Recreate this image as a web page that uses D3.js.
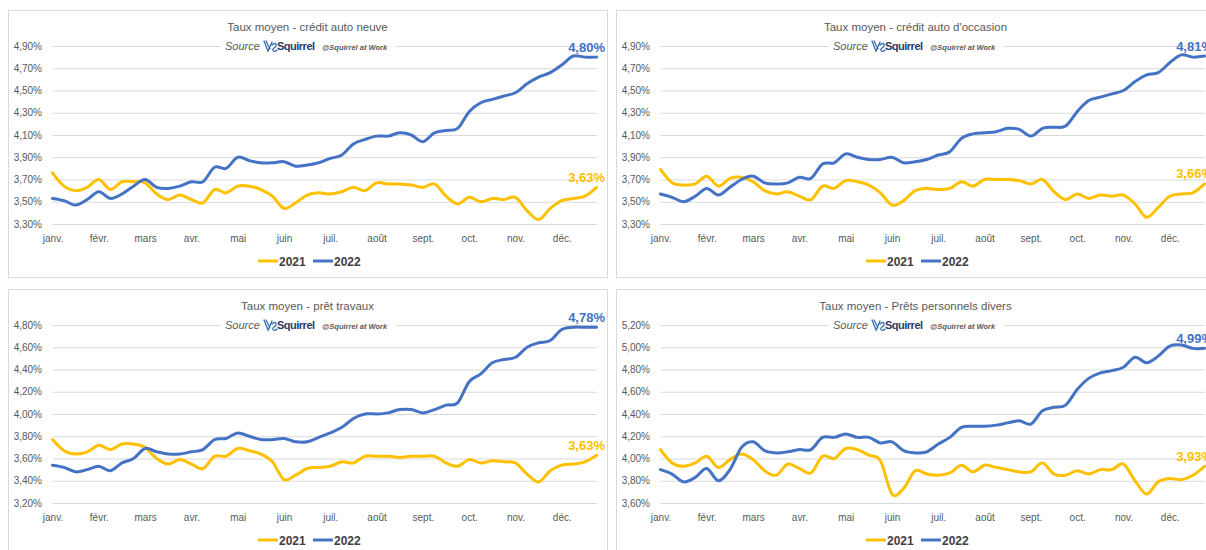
<!DOCTYPE html>
<html>
<head>
<meta charset="utf-8">
<script src="https://cdn.jsdelivr.net/npm/d3@7"></script>
<style>
  body { margin: 0; background: #fff; }
  svg text { font-family: "Liberation Sans", Arial, sans-serif; }
</style>
</head>
<body>
<script>
// month labels (one label every 4 weekly points)
const months = ["janv.", "févr.", "mars", "avr.", "mai", "juin", "juil.", "août", "sept.", "oct.", "nov.", "déc."];
const years = ["2021", "2022"];

// y tick values for each chart
const ticksAuto = [3.30, 3.50, 3.70, 3.90, 4.10, 4.30, 4.50, 4.70, 4.90];
const ticksTravaux = [3.20, 3.40, 3.60, 3.80, 4.00, 4.20, 4.40, 4.60, 4.80];
const ticksPerso = [3.60, 3.80, 4.00, 4.20, 4.40, 4.60, 4.80, 5.00, 5.20];

// crédit auto neuve
const autoNeuve2021 = [3.76,3.64,3.60,3.63,3.70,3.61,3.68,3.68,3.67,3.57,3.52,3.56,3.52,3.49,3.61,3.58,3.64,3.64,3.61,3.55,3.44,3.49,3.56,3.58,3.57,3.59,3.63,3.60,3.67,3.66,3.66,3.65,3.63,3.66,3.55,3.48,3.54,3.50,3.53,3.52,3.54,3.42,3.34,3.44,3.51,3.53,3.55,3.63];
const autoNeuve2022 = [3.53,3.51,3.47,3.52,3.59,3.53,3.57,3.64,3.70,3.63,3.62,3.64,3.68,3.68,3.81,3.80,3.90,3.87,3.85,3.85,3.86,3.82,3.83,3.85,3.89,3.92,4.02,4.06,4.09,4.09,4.12,4.10,4.04,4.12,4.14,4.16,4.31,4.39,4.42,4.45,4.48,4.56,4.62,4.66,4.73,4.81,4.80,4.80];

// crédit auto d'occasion
const autoOccasion2021 = [3.79,3.67,3.65,3.66,3.73,3.64,3.71,3.72,3.68,3.60,3.57,3.59,3.55,3.52,3.64,3.62,3.69,3.68,3.65,3.58,3.47,3.51,3.60,3.62,3.61,3.62,3.68,3.64,3.70,3.70,3.70,3.69,3.66,3.70,3.59,3.52,3.57,3.53,3.56,3.55,3.56,3.48,3.36,3.45,3.55,3.57,3.58,3.66];
const autoOccasion2022 = [3.57,3.54,3.50,3.55,3.62,3.56,3.63,3.70,3.73,3.67,3.66,3.67,3.72,3.71,3.84,3.85,3.93,3.90,3.88,3.88,3.90,3.85,3.86,3.88,3.92,3.95,4.07,4.11,4.12,4.13,4.16,4.15,4.09,4.16,4.17,4.18,4.31,4.41,4.44,4.47,4.50,4.58,4.64,4.66,4.75,4.82,4.80,4.81];

// prêt travaux
const travaux2021 = [3.77,3.67,3.64,3.66,3.72,3.68,3.73,3.73,3.70,3.60,3.55,3.59,3.55,3.51,3.62,3.62,3.69,3.67,3.64,3.57,3.41,3.45,3.51,3.52,3.53,3.57,3.56,3.62,3.62,3.62,3.61,3.62,3.62,3.62,3.56,3.53,3.59,3.56,3.58,3.57,3.56,3.46,3.39,3.49,3.54,3.55,3.57,3.63];
const travaux2022 = [3.54,3.52,3.48,3.50,3.53,3.49,3.56,3.60,3.69,3.66,3.64,3.64,3.66,3.68,3.77,3.78,3.83,3.80,3.77,3.77,3.78,3.75,3.75,3.79,3.83,3.88,3.96,4.00,4.00,4.01,4.04,4.04,4.01,4.04,4.08,4.10,4.29,4.36,4.46,4.49,4.51,4.60,4.64,4.66,4.76,4.78,4.78,4.78];

// prêts personnels divers
const perso2021 = [4.08,3.96,3.93,3.96,4.02,3.92,3.99,4.04,3.99,3.89,3.85,3.95,3.91,3.87,4.02,4.00,4.09,4.08,4.03,3.98,3.68,3.73,3.89,3.86,3.85,3.87,3.94,3.88,3.94,3.92,3.90,3.88,3.88,3.96,3.86,3.85,3.89,3.86,3.90,3.90,3.95,3.80,3.68,3.79,3.82,3.81,3.85,3.93];
const perso2022 = [3.90,3.86,3.79,3.83,3.91,3.80,3.90,4.10,4.15,4.07,4.05,4.06,4.08,4.08,4.19,4.19,4.22,4.19,4.19,4.14,4.15,4.07,4.05,4.06,4.13,4.19,4.28,4.29,4.29,4.30,4.32,4.34,4.31,4.43,4.46,4.48,4.62,4.72,4.77,4.79,4.82,4.91,4.86,4.92,5.01,5.02,4.99,4.99];

const panels = [
  { title: "Taux moyen - crédit auto neuve", ticks: ticksAuto, s2021: autoNeuve2021, s2022: autoNeuve2022, dx: 0, dy: 0 },
  { title: "Taux moyen - crédit auto d'occasion", ticks: ticksAuto, s2021: autoOccasion2021, s2022: autoOccasion2022, dx: 608, dy: 0 },
  { title: "Taux moyen - prêt travaux", ticks: ticksTravaux, s2021: travaux2021, s2022: travaux2022, dx: 0, dy: 279 },
  { title: "Taux moyen - Prêts personnels divers", ticks: ticksPerso, s2021: perso2021, s2022: perso2022, dx: 608, dy: 279 }
];

const colors = { "2021": "#FFC000", "2022": "#4472C4" };
const grey = "#595959";
const fmt = d => d.toFixed(2).replace(".", ",") + "%";

const width = 1206, height = 550;
const svg = d3.select("body").append("svg")
    .attr("width", width)
    .attr("height", height);

// inner geometry of one chart (same for all four)
const plotLeft = 52.5, plotRight = 596.5, plotTop = 46, plotBottom = 224;

const x = d3.scaleLinear()
    .domain([0, 47])
    .range([plotLeft, plotRight]);

panels.forEach(p => {
  const g = svg.append("g").attr("transform", `translate(${p.dx},${p.dy})`);

  g.append("rect")
    .attr("x", 8.5).attr("y", 10.5)
    .attr("width", 599).attr("height", 267)
    .attr("fill", "#fff")
    .attr("stroke", "#d9d9d9");

  const y = d3.scaleLinear()
      .domain([p.ticks[0], p.ticks[p.ticks.length - 1]])
      .range([plotBottom, plotTop]);

  // y axis + gridlines
  g.append("g")
    .attr("transform", `translate(${plotLeft},0)`)
    .call(d3.axisLeft(y).tickValues(p.ticks).tickFormat(fmt)
      .tickSize(-(plotRight - plotLeft + 0.5)).tickPadding(10.5))
    .call(a => a.select(".domain").remove())
    .call(a => a.selectAll("line").attr("stroke", "#d9d9d9"))
    .call(a => a.selectAll("text").attr("fill", grey).attr("font-size", 10)
      .attr("font-family", "Liberation Sans, Arial, sans-serif"));

  // x axis
  g.append("g")
    .attr("transform", `translate(0,${plotBottom})`)
    .call(d3.axisBottom(x).tickValues(d3.range(0, 48, 4))
      .tickFormat(i => months[i / 4]).tickSize(0).tickPadding(10.4))
    .call(a => a.select(".domain").remove())
    .call(a => a.selectAll("text").attr("fill", grey).attr("font-size", 10)
      .attr("font-family", "Liberation Sans, Arial, sans-serif"));

  // title
  g.append("text")
    .attr("x", 307.5).attr("y", 30.5)
    .attr("text-anchor", "middle")
    .attr("font-size", 11.5)
    .attr("fill", grey)
    .text(p.title);

  // source banner (sits on a white box over the top gridline)
  const src = g.append("g");
  src.append("rect")
    .attr("x", 221).attr("y", 39).attr("width", 175).attr("height", 15)
    .attr("fill", "#fff");
  src.append("text")
    .attr("x", 225).attr("y", 50)
    .attr("font-size", 11).attr("font-style", "italic")
    .attr("fill", grey)
    .text("Source");
  src.append("path")
    .attr("d", "M264,41 L268,51 L272,42 M266,41 L270,49 M272,45 C276,41 278,46 274,48 C271,50 274,53 277,50")
    .attr("fill", "none")
    .attr("stroke", "#3a6fb5")
    .attr("stroke-width", 1.3)
    .attr("stroke-linecap", "round");
  src.append("text")
    .attr("x", 277).attr("y", 50)
    .attr("font-size", 11).attr("font-weight", "bold")
    .attr("letter-spacing", -0.5)
    .attr("fill", "#1f3d6e")
    .text("Squirrel");
  src.append("text")
    .attr("x", 322).attr("y", 49.5)
    .attr("font-size", 7.5).attr("font-weight", "bold").attr("font-style", "italic")
    .attr("fill", grey)
    .text("@Squirrel at Work");

  // lines
  const line = d3.line()
      .x((d, i) => x(i))
      .y(d => y(d))
      .curve(d3.curveCardinal);

  [["2021", p.s2021], ["2022", p.s2022]].forEach(([yr, vals]) => {
    g.append("path")
      .datum(vals)
      .attr("fill", "none")
      .attr("stroke", colors[yr])
      .attr("stroke-width", 3)
      .attr("stroke-linejoin", "round")
      .attr("stroke-linecap", "round")
      .attr("d", line);

    const last = vals[vals.length - 1];
    g.append("text")
      .attr("x", plotRight + 8.5)
      .attr("y", y(last) - 5.5)
      .attr("text-anchor", "end")
      .attr("font-size", 13)
      .attr("font-weight", "bold")
      .attr("fill", colors[yr])
      .text(fmt(last));
  });

  // legend
  const legX = [258, 313];
  years.forEach((yr, i) => {
    g.append("line")
      .attr("x1", legX[i]).attr("x2", legX[i] + 20)
      .attr("y1", 261).attr("y2", 261)
      .attr("stroke", colors[yr])
      .attr("stroke-width", 3);
    g.append("text")
      .attr("x", legX[i] + 21).attr("y", 265.5)
      .attr("font-size", 12).attr("font-weight", "bold")
      .attr("fill", "#404040")
      .text(yr);
  });
});
</script>
</body>
</html>
